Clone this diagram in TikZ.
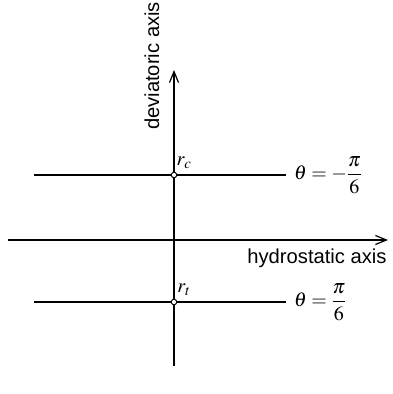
\documentclass[tikz,border=0pt]{standalone}
\usepackage{mathptmx}
\usepackage[no-math]{fontspec}
\newfontfamily\lsans{Liberation Sans}
\usetikzlibrary{arrows.meta}
\tikzset{
  axisline/.style={line width=1.2pt,-{Straight Barb[length=11pt,width=9pt,line width=1.2pt]}},
  limline/.style={line width=2.4pt},
  axlabel/.style={font=\lsans\fontsize{20.2}{24}\selectfont,inner sep=0pt},
  mlabel/.style={font=\fontsize{20}{24}\selectfont,inner sep=0pt},
  pt/.style={circle,draw,line width=1pt,fill=white,inner sep=0pt,minimum size=5.5pt}
}
\begin{document}
\begin{tikzpicture}[x=1pt,y=1pt]
\useasboundingbox (0,0) rectangle (392,394);
% coordinates
\coordinate (vb) at (174,28);
\coordinate (vt) at (174,324);
\coordinate (hl) at (8,154);
\coordinate (hr) at (388,154);
\coordinate (cl) at (34,219);
\coordinate (cr) at (286,219);
\coordinate (tl) at (34,92);
\coordinate (tr) at (286,92);
% limit lines
\draw[limline] (cl) -- (cr);
\draw[limline] (tl) -- (tr);
% axes
\draw[axisline] (vb) -- (vt);
\draw[axisline] (hl) -- (hr);
% points
\node[pt] (rc) at (174,219) {};
\node[pt] (rt) at (174,92) {};
% labels
\node[axlabel,rotate=90] (dev) at (152,328) {deviatoric axis};
\node[axlabel] (hyd) at (317,136) {hydrostatic axis};
\node[mlabel] (rcl) at (184,231) {$r_c$};
\node[mlabel] (rtl) at (184,104) {$r_t$};
\node[mlabel,anchor=west] (thc) at (294,219) {$\displaystyle\theta=-\frac{\pi}{6}$};
\node[mlabel,anchor=west] (tht) at (294,92) {$\displaystyle\theta=\frac{\pi}{6}$};
\end{tikzpicture}
\end{document}
